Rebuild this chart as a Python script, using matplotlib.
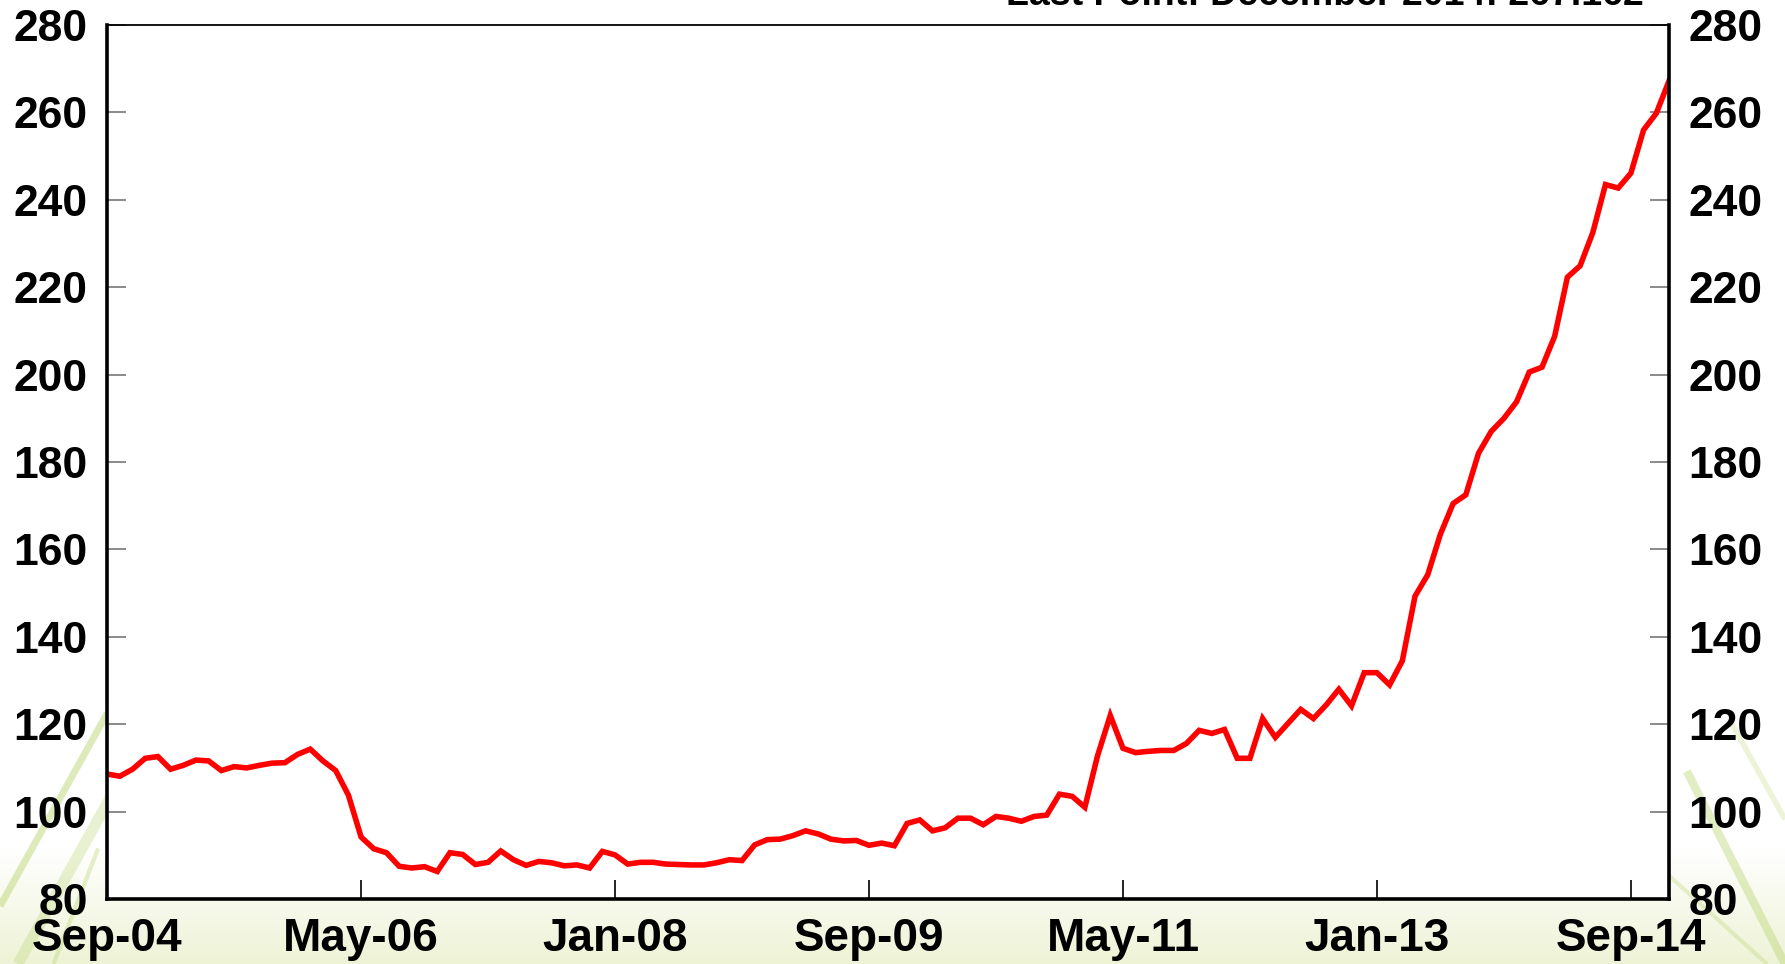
import matplotlib.pyplot as plt
import numpy as np

# Monthly index, Sep-2004 .. Dec-2014
values = [
    108.6, 108.1, 109.7, 112.2, 112.6, 109.7, 110.6, 111.8, 111.6, 109.4,
    110.3, 110.0, 110.6, 111.1, 111.2, 113.1, 114.3, 111.6, 109.4, 103.8,
    94.2, 91.5, 90.6, 87.5, 87.1, 87.4, 86.3, 90.6, 90.2, 87.9,
    88.4, 91.0, 89.0, 87.7, 88.6, 88.3, 87.6, 87.8, 87.1, 90.9,
    90.1, 88.0, 88.4, 88.4, 88.0, 87.9, 87.8, 87.8, 88.3, 89.0,
    88.8, 92.4, 93.6, 93.7, 94.5, 95.6, 94.9, 93.7, 93.3, 93.4,
    92.3, 92.8, 92.2, 97.3, 98.1, 95.6, 96.3, 98.5, 98.5, 97.0,
    98.9, 98.5, 97.8, 98.9, 99.2, 104.0, 103.5, 101.0, 112.8, 122.0,
    114.5, 113.5, 113.8, 114.0, 114.0, 115.6, 118.6, 117.9, 118.8, 112.2,
    112.2, 121.3, 117.0, 120.2, 123.4, 121.3, 124.4, 128.0, 124.2, 131.8,
    131.8, 129.0, 134.5, 149.3, 154.2, 163.5, 170.5, 172.5, 182.0, 187.0,
    190.0, 193.8, 200.6, 201.7, 208.8, 222.3, 224.9, 232.5, 243.5, 242.7,
    246.1, 256.0, 259.8, 267.2,
]
tick_pos = [0, 20, 40, 60, 80, 100, 120]
tick_labels = ["Sep-04", "May-06", "Jan-08", "Sep-09", "May-11", "Jan-13", "Sep-14"]
y_ticks = list(range(80, 281, 20))
note = "Last Point: December 2014: 267.162"

plt.rcParams['font.family'] = ['Liberation Sans', 'DejaVu Sans']
plt.rcParams['font.weight'] = 'bold'

fig = plt.figure(figsize=(17.85, 9.64), dpi=100)

# background: pale green strip at the bottom with a few light streaks
bg = fig.add_axes([0, 0, 1, 1], zorder=-10)
bg.set_xlim(0, 1)
bg.set_ylim(0, 1)
bg.axis('off')
grad = np.linspace(0, 1, 200).reshape(-1, 1)
bg.imshow(grad, extent=[0, 1, 0, 0.12], aspect='auto', origin='lower',
          cmap=plt.matplotlib.colors.LinearSegmentedColormap.from_list(
              'g', ['#eef3d6', '#ffffff']), zorder=0)
for x0, y0, x1, y1, w, a in [(0.0, 0.06, 0.06, 0.26, 5, 0.45), (0.01, 0.0, 0.07, 0.2, 8, 0.3),
                             (0.03, 0.0, 0.055, 0.12, 3, 0.35), (0.945, 0.2, 1.0, 0.0, 6, 0.4),
                             (0.93, 0.1, 0.99, 0.0, 3, 0.3), (0.97, 0.25, 1.0, 0.15, 4, 0.25)]:
    bg.plot([x0, x1], [y0, y1], color='#b5d36a', lw=w, alpha=a, solid_capstyle='butt')

ax = fig.add_axes([0.060, 0.0674, 0.875, 0.9066])
x = np.arange(len(values))
ax.plot(x, values, color='#ff0000', lw=4.0, solid_joinstyle='miter')
ax.set_xlim(0, len(values) - 1)
ax.set_ylim(80, 280)
ax.set_facecolor('white')

ax.set_xticks(tick_pos)
ax.set_xticklabels(tick_labels)
ax.set_yticks(y_ticks)
ax.tick_params(axis='x', direction='in', length=14, width=1.2, color='black',
               labelsize=33, pad=13)
ax.tick_params(axis='y', direction='in', length=14, width=1.2, color='#777777',
               labelsize=32, pad=14, right=True, labelright=True)

for side in ['left', 'bottom', 'right']:
    ax.spines[side].set_linewidth(2.6)
ax.spines['top'].set_linewidth(1.3)

# note sits mostly above the top edge, only its lower part shows
fig.text(0.921, 0.9945, note, ha='right', va='baseline', fontsize=27, fontweight='bold')

fig.savefig("out.png", dpi=100)
